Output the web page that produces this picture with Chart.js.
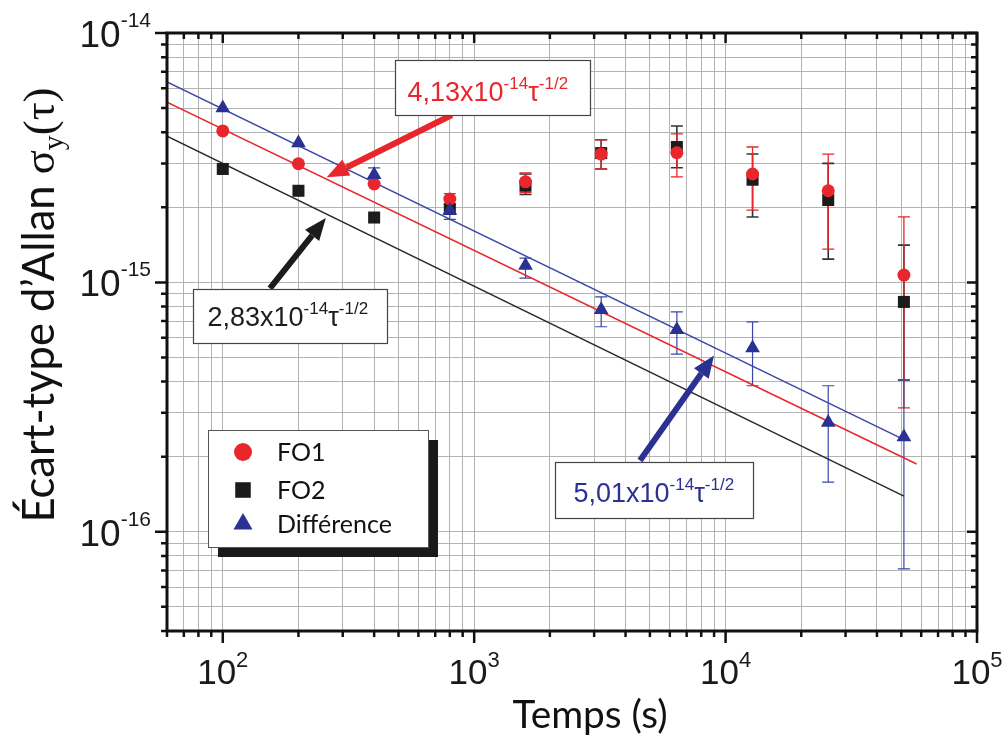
<!DOCTYPE html>
<html>
<head>
<meta charset="utf-8">
<script src="https://cdn.jsdelivr.net/npm/chart.js@4.4.1/dist/chart.umd.min.js"></script>
<style>
    html, body { margin: 0; padding: 0; background: #fff; }
    #wrap { width: 1008px; height: 742px; }
</style>
</head>
<body>
<div id="wrap"><canvas id="allanChart" width="1008" height="742"></canvas></div>
<script>
/* ================= DATA ================= */
const taus = [100, 200, 400, 800, 1600, 3200, 6400, 12800, 25600, 51200];

const fo1     = [4.05e-15, 2.99e-15, 2.48e-15, 2.16e-15, 2.53e-15, 3.27e-15, 3.31e-15, 2.72e-15, 2.33e-15, 1.07e-15];
const fo1High = [null, null, null, 2.27e-15, 2.75e-15, 3.73e-15, 3.94e-15, 3.49e-15, 3.27e-15, 1.83e-15];
const fo1Low  = [null, null, null, 2.05e-15, 2.29e-15, 2.85e-15, 2.65e-15, 1.95e-15, 1.36e-15, 3.14e-16];

const fo2     = [2.85e-15, 2.33e-15, 1.82e-15, 1.97e-15, 2.44e-15, 3.30e-15, 3.49e-15, 2.58e-15, 2.14e-15, 8.35e-16];
const fo2High = [null, null, null, null, 2.72e-15, 3.73e-15, 4.24e-15, 3.27e-15, 3.00e-15, 1.41e-15];
const fo2Low  = [null, null, null, null, 2.25e-15, 2.85e-15, 2.88e-15, 1.83e-15, 1.24e-15, 4.06e-16];

const diff     = [5.00e-15, 3.62e-15, 2.70e-15, 1.94e-15, 1.17e-15, 7.76e-16, 6.46e-16, 5.46e-16, 2.74e-16, 2.40e-16];
const diffHigh = [null, null, 2.88e-15, null, 1.25e-15, 8.75e-16, 7.62e-16, 6.95e-16, 3.85e-16, 4.06e-16];
const diffLow  = [null, null, null, 1.79e-15, 1.04e-15, 6.64e-16, 5.16e-16, 3.85e-16, 1.58e-16, 7.1e-17];

// fitted tau^-1/2 lines, end points as drawn
const fitRedTau   = [60, 57500];
const fitRed      = [5.28e-15, 1.87e-16];
const fitBlueTau  = [60, 51200];
const fitBlue     = [6.37e-15, 2.34e-16];
const fitBlackTau = [60, 51200];
const fitBlack    = [3.86e-15, 1.39e-16];

const xMin = 60, xMax = 1e5;
const yMin = 4e-17, yMax = 1e-14;
const xLabelExps = [2, 3, 4, 5];
const yLabelExps = [-14, -15, -16];

/* ================= STYLE ================= */
const RED = "#e8262b";
const BLACK = "#1c1c1c";
const BLUE = "#2b3192";
const LINE_BLUE = "#3a46a8";

// annotation boxes: anchor (tau, sigma) of the top-left corner
const notes = [
    { color: RED,   tau: 483,  sig: 7.79e-15, w: 195, h: 55, tx: 12, ty: 40, coef: "4,13x10",
      arrow: { from: [815, 4.69e-15], to: [259, 2.64e-15] } },
    { color: BLACK, tau: 76,   sig: 9.37e-16, w: 194, h: 54, tx: 14, ty: 36, coef: "2,83x10",
      arrow: { from: [154, 9.46e-16], to: [257, 1.81e-15] } },
    { color: BLUE,  tau: 2095, sig: 1.91e-16, w: 198, h: 56, tx: 18, ty: 39, coef: "5,01x10",
      arrow: { from: [4565, 1.93e-16], to: [8995, 5.09e-16] } }
];

/* ================= HELPERS ================= */
function logGrid(min, max) {
    const out = [];
    for (let e = Math.floor(Math.log10(min)); e <= Math.ceil(Math.log10(max)); e++) {
        for (let m = 1; m <= 9; m++) {
            const v = m * Math.pow(10, e);
            if (v >= min * 0.999 && v <= max * 1.001) out.push({ value: v, major: m === 1 });
        }
    }
    return out;
}
const xGrid = logGrid(xMin, xMax);
const yGrid = logGrid(yMin, yMax);

function pts(xs, ys) {
    return xs.map((x, i) => ({ x: x, y: ys[i] }));
}

// runs: {t, size, family, dy}; fit = wanted total width (fonts are scaled to it)
function drawRuns(ctx, x, y, runs, align, fit) {
    const measure = k => {
        let total = 0;
        runs.forEach(r => {
            ctx.font = (r.size * k).toFixed(1) + "px " + r.family;
            r.w = ctx.measureText(r.t).width;
            total += r.w;
        });
        return total;
    };
    let k = 1;
    let total = measure(k);
    if (fit) { k = fit / total; total = measure(k); }
    let cx = x;
    if (align === "center") cx = x - total / 2;
    if (align === "right") cx = x - total;
    ctx.textAlign = "left";
    ctx.textBaseline = "alphabetic";
    runs.forEach(r => {
        ctx.font = (r.size * k).toFixed(1) + "px " + r.family;
        ctx.fillText(r.t, cx, y + (r.dy || 0) * k);
        cx += r.w;
    });
}

function drawArrow(ctx, x1, y1, x2, y2, color) {
    const ang = Math.atan2(y2 - y1, x2 - x1);
    const head = 22, half = 9;
    const bx = x2 - head * Math.cos(ang), by = y2 - head * Math.sin(ang);
    ctx.strokeStyle = color;
    ctx.lineWidth = 6;
    ctx.lineCap = "butt";
    ctx.beginPath();
    ctx.moveTo(x1, y1);
    ctx.lineTo(bx, by);
    ctx.stroke();
    ctx.fillStyle = color;
    ctx.beginPath();
    ctx.moveTo(x2, y2);
    ctx.lineTo(bx + half * Math.sin(ang), by - half * Math.cos(ang));
    ctx.lineTo(bx - half * Math.sin(ang), by + half * Math.cos(ang));
    ctx.closePath();
    ctx.fill();
}

const SANS = '"Liberation Sans"';
const NARROW = '"Liberation Sans Narrow", "Liberation Sans"';
const SERIF = '"Liberation Serif"';

/* ================= ERROR BARS ================= */
const errorBars = {
    id: "errorBars",
    beforeDatasetsDraw(chart) {
        const ctx = chart.ctx, xs = chart.scales.x, ys = chart.scales.y, a = chart.chartArea;
        const sets = [
            { mid: fo2, lo: fo2Low, hi: fo2High, color: "#333333", width: 1.6 },
            { mid: fo1, lo: fo1Low, hi: fo1High, color: RED, width: 1.3 },
            { mid: diff, lo: diffLow, hi: diffHigh, color: LINE_BLUE, width: 1.2 }
        ];
        ctx.save();
        ctx.beginPath();
        ctx.rect(a.left, a.top, a.right - a.left, a.bottom - a.top);
        ctx.clip();
        sets.forEach(s => {
            ctx.strokeStyle = s.color;
            ctx.lineWidth = s.width;
            taus.forEach((t, i) => {
                const px = xs.getPixelForValue(t);
                const pm = ys.getPixelForValue(s.mid[i]);
                [s.lo[i], s.hi[i]].forEach(v => {
                    if (v == null) return;
                    const py = ys.getPixelForValue(v);
                    ctx.beginPath();
                    ctx.moveTo(px, pm);
                    ctx.lineTo(px, py);
                    ctx.moveTo(px - 6, py);
                    ctx.lineTo(px + 6, py);
                    ctx.stroke();
                });
            });
        });
        ctx.restore();
    }
};

/* ================= DECORATION ================= */
const decor = {
    id: "decor",
    afterDraw(chart) {
        const ctx = chart.ctx, xs = chart.scales.x, ys = chart.scales.y, a = chart.chartArea;
        ctx.save();

        // arrows then boxes
        notes.forEach(n => {
            drawArrow(ctx,
                xs.getPixelForValue(n.arrow.from[0]), ys.getPixelForValue(n.arrow.from[1]),
                xs.getPixelForValue(n.arrow.to[0]), ys.getPixelForValue(n.arrow.to[1]), n.color);
        });
        notes.forEach(n => {
            const bx = Math.round(xs.getPixelForValue(n.tau)) + 0.5;
            const by = Math.round(ys.getPixelForValue(n.sig)) + 0.5;
            ctx.fillStyle = "#fff";
            ctx.fillRect(bx, by, n.w, n.h);
            ctx.strokeStyle = "#444";
            ctx.lineWidth = 1.2;
            ctx.strokeRect(bx, by, n.w, n.h);
            ctx.fillStyle = n.color;
            drawRuns(ctx, bx + n.tx, by + n.ty, [
                { t: n.coef, size: 27, family: SANS },
                { t: "-14", size: 17, family: SANS, dy: -12 },
                { t: "τ", size: 27, family: SANS },
                { t: "-1/2", size: 17, family: SANS, dy: -12 }
            ], "left");
        });

        // legend with shadow
        const lx = 208, ly = 430, lw = 220, lh = 117;
        ctx.fillStyle = "#1a1a1a";
        ctx.fillRect(lx + 10, ly + 10, lw, lh);
        ctx.fillStyle = "#fff";
        ctx.fillRect(lx, ly, lw, lh);
        ctx.strokeStyle = "#555";
        ctx.lineWidth = 1;
        ctx.strokeRect(lx + 0.5, ly + 0.5, lw, lh);
        const rows = [
            { label: "FO1", style: "circle", color: RED, r: 9, y: 452 },
            { label: "FO2", style: "rect", color: BLACK, r: 11, y: 490 },
            { label: "Différence", style: "triangle", color: BLUE, r: 11, y: 524 }
        ];
        rows.forEach(r => {
            ctx.fillStyle = r.color;
            ctx.strokeStyle = r.color;
            Chart.helpers.drawPoint(ctx, { pointStyle: r.style, radius: r.r, borderWidth: 0 }, 243, r.y);
            ctx.fillStyle = "#111";
            ctx.font = '25px Lato';
            ctx.textAlign = "left";
            ctx.textBaseline = "middle";
            ctx.fillText(r.label, 277, r.y + 1);
        });

        // frame
        ctx.strokeStyle = "#111";
        ctx.lineWidth = 3;
        ctx.strokeRect(a.left, a.top, a.right - a.left, a.bottom - a.top);

        // ticks: out on left/bottom, in on top/right
        ctx.lineWidth = 2.5;
        ctx.beginPath();
        xGrid.forEach(t => {
            const px = xs.getPixelForValue(t.value);
            ctx.moveTo(px, a.bottom);
            ctx.lineTo(px, a.bottom + (t.major ? 12 : 6));
            ctx.moveTo(px, a.top);
            ctx.lineTo(px, a.top + (t.major ? 10 : 6));
        });
        yGrid.forEach(t => {
            const py = ys.getPixelForValue(t.value);
            ctx.moveTo(a.left, py);
            ctx.lineTo(a.left - (t.major ? 12 : 6), py);
            ctx.moveTo(a.right, py);
            ctx.lineTo(a.right - (t.major ? 10 : 6), py);
        });
        ctx.stroke();

        // tick labels
        ctx.fillStyle = "#1a1a1a";
        yLabelExps.forEach(e => {
            const py = ys.getPixelForValue(Math.pow(10, e));
            drawRuns(ctx, a.left - 16, py + 14, [
                { t: "10", size: 37, family: SANS },
                { t: String(e), size: 21, family: SANS, dy: -20 }
            ], "right");
        });
        xLabelExps.forEach(e => {
            const px = xs.getPixelForValue(Math.pow(10, e));
            drawRuns(ctx, px, a.bottom + 53, [
                { t: "10", size: 35, family: NARROW },
                { t: String(e), size: 22, family: NARROW, dy: -17 }
            ], "center");
        });

        // axis titles, fitted to the reference text lengths
        ctx.fillStyle = "#111";
        drawRuns(ctx, 590, 728, [
            { t: "Temps (s)", size: 38, family: "Lato" }
        ], "center", 155);
        ctx.translate(38, 305);
        ctx.rotate(-Math.PI / 2);
        drawRuns(ctx, 0, 16, [
            { t: "Écart-type d’Allan ", size: 38, family: "Lato" },
            { t: "σ", size: 39, family: SERIF },
            { t: "y", size: 26, family: SERIF, dy: 8 },
            { t: "(τ)", size: 39, family: SERIF }
        ], "center", 435);

        ctx.restore();
    }
};

/* ================= CHART ================= */
const logScale = (min, max, grid) => ({
    type: "logarithmic",
    min: min,
    max: max,
    ticks: { display: false },
    grid: { color: "#b3b3b3", lineWidth: 1, drawTicks: false },
    border: { display: false },
    afterBuildTicks: s => { s.ticks = grid.map(t => ({ value: t.value })); }
});

new Chart(document.getElementById("allanChart"), {
    type: "scatter",
    data: {
        datasets: [
            { label: "fit FO1", data: pts(fitRedTau, fitRed), showLine: true, borderColor: RED,
              borderWidth: 1.5, pointRadius: 0, order: 10 },
            { label: "fit Diff", data: pts(fitBlueTau, fitBlue), showLine: true, borderColor: LINE_BLUE,
              borderWidth: 1.5, pointRadius: 0, order: 10 },
            { label: "fit FO2", data: pts(fitBlackTau, fitBlack), showLine: true, borderColor: "#2a2a2a",
              borderWidth: 1.5, pointRadius: 0, order: 10 },
            { label: "FO2", data: pts(taus, fo2), pointStyle: "rect", pointRadius: 8.5,
              backgroundColor: BLACK, borderColor: BLACK, borderWidth: 0, order: 3 },
            { label: "FO1", data: pts(taus, fo1), pointStyle: "circle", pointRadius: 6.5,
              backgroundColor: RED, borderColor: RED, borderWidth: 0, order: 2 },
            { label: "Différence", data: pts(taus, diff), pointStyle: "triangle", pointRadius: 8.5,
              backgroundColor: BLUE, borderColor: BLUE, borderWidth: 0, order: 1 }
        ]
    },
    options: {
        responsive: false,
        animation: false,
        layout: { padding: { left: 167, right: 31, top: 33, bottom: 111 } },
        plugins: { legend: { display: false }, tooltip: { enabled: false } },
        scales: {
            x: logScale(xMin, xMax, xGrid),
            y: logScale(yMin, yMax, yGrid)
        }
    },
    plugins: [errorBars, decor]
});
</script>
</body>
</html>
